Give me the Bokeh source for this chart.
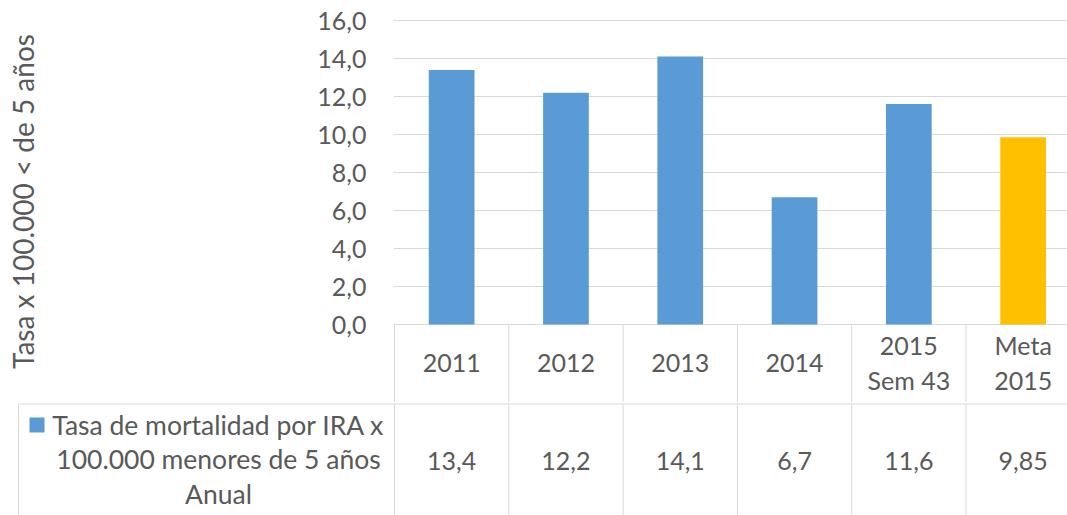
from bokeh.plotting import figure
from bokeh.models import Range1d, FixedTicker, CustomJSTickFormatter, ColumnDataSource
from bokeh.core.properties import value
from bokeh.embed import file_html
from bokeh.resources import INLINE

# ---------------- data ----------------
categories = ["2011", "2012", "2013", "2014", "2015\nSem 43", "Meta\n2015"]
rates = [13.4, 12.2, 14.1, 6.7, 11.6, 9.85]
bar_colors = ["#5B9BD5", "#5B9BD5", "#5B9BD5", "#5B9BD5", "#5B9BD5", "#FFC000"]
y_ticks = [0, 2, 4, 6, 8, 10, 12, 14, 16]
series_name = "Tasa de mortalidad por IRA x\n100.000 menores de 5 años\nAnual"
y_title = "Tasa x 100.000 < de 5 años"

# ---------------- layout constants ----------------
W = 1067
TOP_H = 402
BOT_H = 113
COL = 114.3            # px per category column
X0 = 394               # px where x=0 sits (both figures)
FRAME_LEFT = X0 - 1
PXY = 19.0             # px per y unit
FONT = value("Lato")
TXT = "#595959"
LINE = "#d9d9d9"
FS = "25px"

n = len(categories)
xs = [i + 0.5 for i in range(n)]
bounds = [i for i in range(n + 1)]

src = ColumnDataSource(dict(
    x=xs, top=rates, color=bar_colors, cat=categories,
    lab=[str(v).replace(".", ",") for v in rates],
))

y_top = 16 + 20 / PXY
y_bot = y_top - TOP_H / PXY

top = figure(width=W, height=TOP_H, output_backend="svg", toolbar_location=None,
             x_range=Range1d(-(X0 - FRAME_LEFT) / COL, (W - X0) / COL),
             y_range=Range1d(y_bot, y_top), x_axis_type=None,
             min_border_left=FRAME_LEFT, min_border_right=0,
             min_border_top=0, min_border_bottom=0)
top.outline_line_color = None
top.xgrid.visible = False
top.ygrid.grid_line_color = LINE
top.ygrid.grid_line_width = 1
top.background_fill_color = "white"
top.border_fill_color = "white"

ax = top.yaxis[0]
ax.ticker = FixedTicker(ticks=y_ticks)
ax.formatter = CustomJSTickFormatter(code="return tick.toFixed(1).replace('.', ',');")
ax.axis_line_color = None
ax.major_tick_line_color = None
ax.minor_tick_line_color = None
ax.major_tick_out = 0
ax.major_tick_in = 0
ax.major_label_standoff = 27
ax.major_label_text_font = "Lato"
ax.major_label_text_font_size = FS
ax.major_label_text_color = TXT
ax.axis_label = y_title
ax.axis_label_text_font = "Lato"
ax.axis_label_text_font_size = "28px"
ax.axis_label_text_font_style = "normal"
ax.axis_label_text_color = TXT
ax.axis_label_standoff = 274

top.vbar(x="x", top="top", bottom=0, width=0.4, fill_color="color",
         line_color=None, source=src)
top.segment(x0=bounds, y0=[0] * len(bounds), x1=bounds, y1=[y_bot - 1] * len(bounds),
            line_color=LINE, line_width=1)
top.text(x="x", y=-38 / PXY, text="cat", source=src, text_align="center",
         text_baseline="middle", text_font=FONT, text_font_size=FS,
         text_color=TXT, text_line_height=1.19)

# ---------------- data table row ----------------
LEFT_BORDER = (18 - X0) / COL
bot = figure(width=W, height=BOT_H, output_backend="svg", toolbar_location=None,
             x_range=Range1d(-X0 / COL, (W - X0) / COL),
             y_range=Range1d(-BOT_H, 0), x_axis_type=None, y_axis_type=None,
             min_border_left=0, min_border_right=0, min_border_top=0, min_border_bottom=0)
bot.outline_line_color = None
bot.xgrid.visible = False
bot.ygrid.visible = False
bot.background_fill_color = "white"
bot.border_fill_color = "white"

vb = [LEFT_BORDER] + bounds
bot.segment(x0=[LEFT_BORDER], y0=[-1.5], x1=[n + 1], y1=[-1.5], line_color=LINE, line_width=1)
bot.segment(x0=vb, y0=[-1.5] * len(vb), x1=vb, y1=[-BOT_H - 2] * len(vb),
            line_color=LINE, line_width=1)
bot.text(x="x", y=-58, text="lab", source=src, text_align="center",
         text_baseline="middle", text_font=FONT, text_font_size=FS, text_color=TXT)
bot.text(x=[(218 - X0) / COL], y=[-57], text=[series_name], text_align="center",
         text_baseline="middle", text_font=FONT, text_font_size="26.5px", text_color=TXT,
         text_line_height=1.09)
bot.scatter(x=[(36.5 - X0) / COL], y=[-22.5], marker="square", size=15,
            fill_color=bar_colors[0], line_color=None)

open("out.html", "w").write(file_html([top, bot], INLINE))
